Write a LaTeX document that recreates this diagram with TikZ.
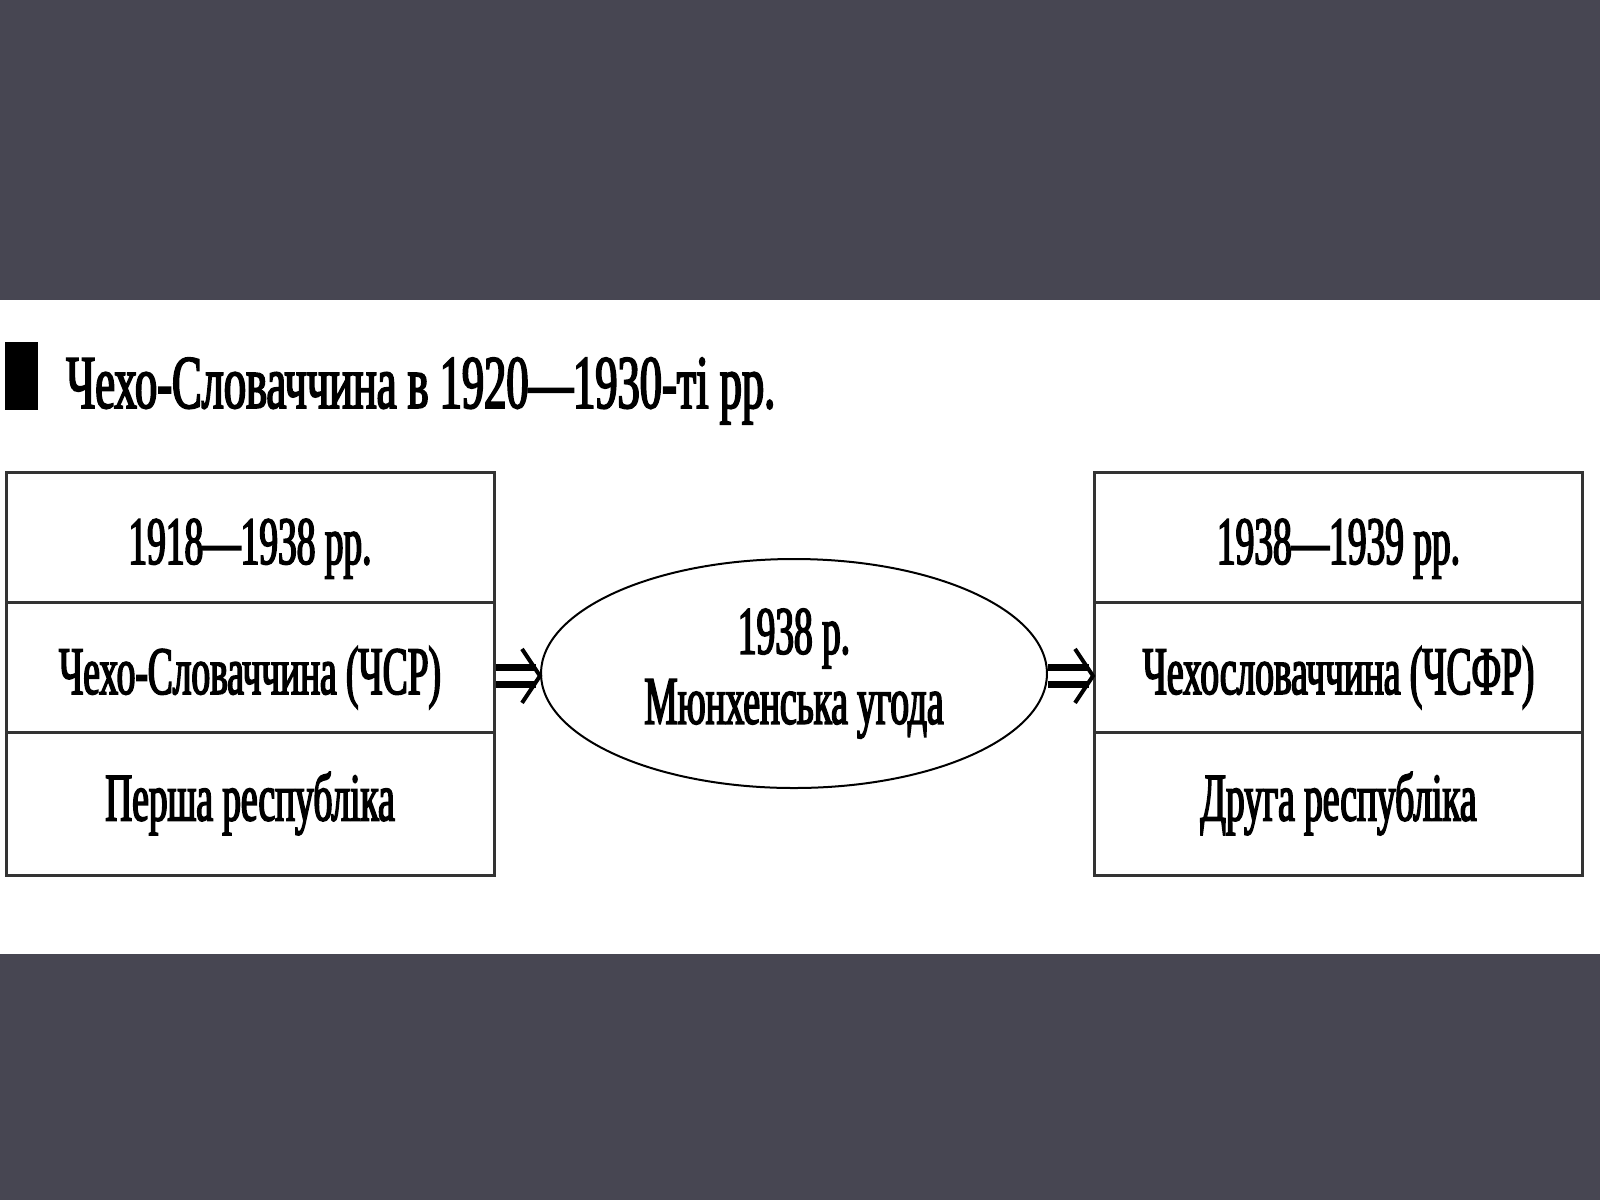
\documentclass[tikz,border=0pt]{standalone}
\usepackage{fontspec}
\setmainfont[FakeStretch=0.55,FakeBold=2.3]{Liberation Serif}
\newfontfamily\titlefont[FakeStretch=0.585,FakeBold=2.3]{Liberation Serif}
\usetikzlibrary{arrows.meta,shapes.geometric}
\definecolor{band}{RGB}{71,70,82}
\tikzset{
  cell/.style={draw=black!80, line width=1.5pt, rectangle, inner sep=0pt, minimum width=244pt, minimum height=65pt, align=center, font=\fontsize{34}{38}\selectfont},
  lowtext/.style={text height=30pt, text depth=3pt},
  oval/.style={draw=black, line width=1pt, ellipse, inner sep=0pt, minimum width=253pt, minimum height=114.5pt, align=center, font=\fontsize{34}{36}\selectfont},
  bars/.style={draw=black, line width=3.6pt, double, double distance=5pt, shorten >=2pt},
  chevron/.style={draw=black, line width=2pt, line join=miter},
  title/.style={anchor=base west, inner sep=0pt, font=\titlefont\fontsize{38}{42}\selectfont}
}
\begin{document}
\begin{tikzpicture}[x=0.5pt,y=-0.5pt]
\useasboundingbox (0,0) rectangle (1600,1200);
\fill[band] (0,0) rectangle (1600,1200);
\fill[white] (0,300) rectangle (1600,954);
% title
\fill[black] (5,342) rectangle (38,410);
\node[title] (T) at (66,408) {Чехо-Словаччина в 1920—1930-ті рр.};
% left box
\node[cell, lowtext] (L1) at (250,537) {1918—1938 рр.};
\node[cell, lowtext] (L2) at (250,667) {Чехо-Словаччина (ЧСР)};
\node[cell, minimum height=71.5pt] (L3) at (250,803.5) {Перша республіка};
% right box
\node[cell, lowtext] (R1) at (1338.5,537) {1938—1939 рр.};
\node[cell, lowtext] (R2) at (1338.5,667) {Чехословаччина (ЧСФР)};
\node[cell, minimum height=71.5pt] (R3) at (1338.5,803.5) {Друга республіка};
% ellipse
\node[oval] (E) at (794,673.5) {1938 р.\\[-1pt]Мюнхенська угода};
% arrows
\coordinate (Ltip) at ([yshift=-1.2pt]E.west);
\coordinate (Rtip) at ([yshift=-1.2pt]R2.west |- E.east);
\draw[bars] ([yshift=-1.2pt]L2.east |- E.west) -- (Ltip);
\draw[chevron] ([xshift=-9pt,yshift=13.5pt]Ltip) -- (Ltip) -- ([xshift=-9pt,yshift=-13.5pt]Ltip);
\draw[bars] ([yshift=-1.2pt]E.east) -- (Rtip);
\draw[chevron] ([xshift=-9pt,yshift=13.5pt]Rtip) -- (Rtip) -- ([xshift=-9pt,yshift=-13.5pt]Rtip);
\end{tikzpicture}
\end{document}
